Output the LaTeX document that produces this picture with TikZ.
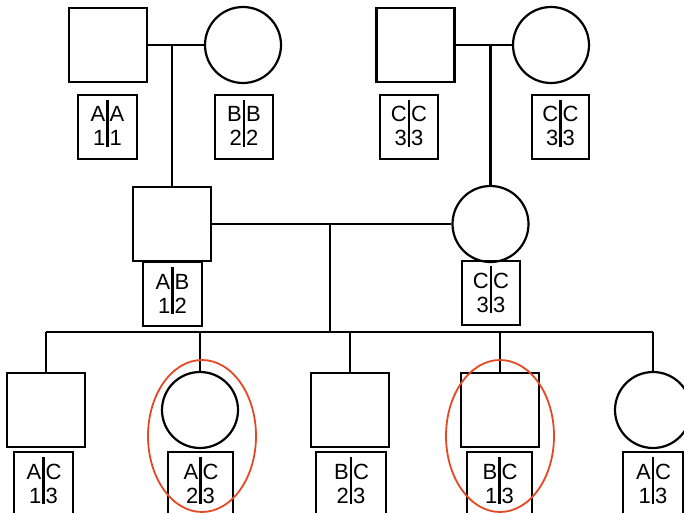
\documentclass[tikz,border=0pt]{standalone}
\usepackage{fontspec}
\setmainfont{Liberation Sans}
\usetikzlibrary{shapes.geometric}

\definecolor{hired}{RGB}{230,72,36}

\tikzset{
  line/.style={line width=2.2pt},
  male/.style={draw, line width=2.2pt, rectangle, minimum width=78pt, minimum height=74pt, inner sep=0pt},
  female/.style={draw, line width=2.2pt, circle, minimum size=76pt, inner sep=0pt},
  gbox/.style={draw, line width=2pt, rectangle, minimum height=64pt, inner sep=0pt},
  divline/.style={line width=2.2pt},
  gtxt/.style={inner sep=0pt, font=\fontsize{22}{22}\selectfont},
  hilite/.style={draw=hired, line width=1.8pt, ellipse, minimum width=108pt, minimum height=152pt, inner sep=0pt},
}

% genotype box: name, x, top, width, upper left, upper right, lower left, lower right
\newcommand\gtbox[8]{%
  \node[gbox, minimum width=#4, anchor=north] (#1) at (#2,#3) {};
  \draw[divline] ([yshift=-6pt]#1.north) -- ([yshift=-53pt]#1.north);
  \node[gtxt, anchor=base east] at ([xshift=-2pt,yshift=-28pt]#1.north) {#5};
  \node[gtxt, anchor=base west] at ([xshift=2pt,yshift=-28pt]#1.north) {#6};
  \node[gtxt, anchor=base east] at ([xshift=-2pt,yshift=-52pt]#1.north) {#7};
  \node[gtxt, anchor=base west] at ([xshift=2pt,yshift=-52pt]#1.north) {#8};
}

\begin{document}
\begin{tikzpicture}[x=1pt,y=-1pt]
\useasboundingbox (0,0) rectangle (684,513);
\clip (0,0) rectangle (684,513);

% first generation
\node[male]   (f1) at (108,45) {};
\node[female] (m1) at (243,45) {};
\node[male]   (f2) at (415.5,45) {};
\node[female] (m2) at (551,45) {};
\gtbox{gf1}{107.5}{94}{59pt}{A}{A}{1}{1}
\gtbox{gm1}{244}{94}{58pt}{B}{B}{2}{2}
\gtbox{gf2}{409}{94}{58pt}{C}{C}{3}{3}
\gtbox{gm2}{560.5}{94}{57pt}{C}{C}{3}{3}

% second generation
\node[male]   (s) at (172,224) {};
\node[female] (d) at (490.5,224) {};
\gtbox{gs}{172.5}{261}{59pt}{A}{B}{1}{2}
\gtbox{gd}{491}{260}{58pt}{C}{C}{3}{3}

% third generation
\node[male]   (c1) at (46,410) {};
\node[female] (c2) at (200,410) {};
\node[male]   (c3) at (350,410) {};
\node[male]   (c4) at (500,410) {};
\node[female] (c5) at (653,410) {};
\gtbox{gc1}{43.5}{451}{59pt}{A}{C}{1}{3}
\gtbox{gc2}{200.5}{451}{65pt}{A}{C}{2}{3}
\gtbox{gc3}{351}{451}{70pt}{B}{C}{2}{3}
\gtbox{gc4}{499.5}{451}{65pt}{B}{C}{1}{3}
\gtbox{gc5}{653}{451}{60pt}{A}{C}{1}{3}

% marriages and descent
\draw[line] (f1.east) -- (m1.west);
\draw[line] (s.north |- f1.east) -- (s.north);
\draw[line] (f2.east) -- (m2.west);
\draw[line] (d.north |- f2.east) -- (d.north);
\draw[line] (s.east) -- (d.west);
\coordinate (k) at (330,224);
\coordinate (sib) at (330,332);
\draw[line] (k) -- (sib);
\draw[line] (c1.north |- sib) -- (c5.north |- sib);
\foreach \c in {c1,c2,c3,c4,c5} {
  \draw[line] (\c.north |- sib) -- (\c.north);
}

% highlighted children
\node[hilite] (e1) at (202,436) {};
\node[hilite] (e2) at (500,436) {};
\end{tikzpicture}
\end{document}
